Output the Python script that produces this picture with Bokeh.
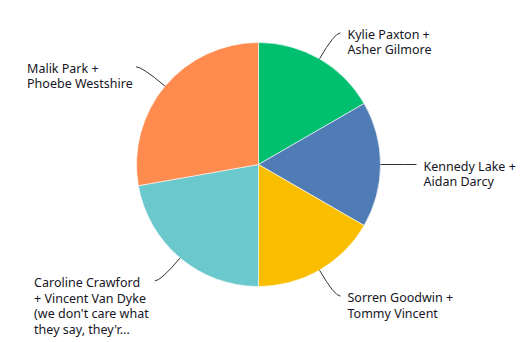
import math
from bokeh.plotting import figure
from bokeh.models import Range1d, ColumnDataSource
from bokeh.core.properties import value
from bokeh.embed import file_html
from bokeh.resources import INLINE

labels = [
    "Kylie Paxton +\nAsher Gilmore",
    "Kennedy Lake +\nAidan Darcy",
    "Sorren Goodwin +\nTommy Vincent",
    "Caroline Crawford\n+ Vincent Van Dyke\n(we don't care what\nthey say, they'r...",
    "Malik Park +\nPhoebe Westshire",
]
values = [3, 3, 3, 4, 5]
colors = ["#00BF6F", "#507CB6", "#F9BE00", "#6BC8CD", "#FF8B4F"]

W, H = 531, 342
CX, CY = 258, H - 164
R = 122
FS = 12.5
LH = 0.92

def est_width(s):
    w = 0.0
    for ch in s:
        if ch in "il'.,;:|!j":
            w += 3.2
        elif ch in "ftr()[] I":
            w += 4.2
        elif ch in "mwMW":
            w += 10.0
        elif ch.isupper():
            w += 8.2
        else:
            w += 6.9
    return w

total = sum(values)
starts, ends = [], []
acc = 0
for v in values:
    starts.append(acc / total * 360)
    acc += v
    ends.append(acc / total * 360)

wedge_src = ColumnDataSource(dict(
    start=[math.radians(90 - e) for e in ends],
    end=[math.radians(90 - s) for s in starts],
    color=colors,
))

x0s, y0s, cxs, cys, x1s, y1s = [], [], [], [], [], []
tx, ty = [], []
for lab, s, e in zip(labels, starts, ends):
    mid = math.radians((s + e) / 2)
    ux, uy = math.sin(mid), math.cos(mid)
    px, py = CX + R * ux, CY + R * uy
    cx, cy = CX + (R + 30) * ux, CY + (R + 30) * uy
    side = 1 if ux >= 0 else -1
    ex, ey = cx + side * 6, cy
    x0s.append(px); y0s.append(py); cxs.append(cx); cys.append(cy)
    x1s.append(ex); y1s.append(ey)
    if side > 0:
        tx.append(ex + 7)
    else:
        wmax = max(est_width(l) for l in lab.split("\n"))
        tx.append(ex - 6 - wmax)
    ty.append(ey + 7)

p = figure(width=W, height=H, x_range=Range1d(0, W), y_range=Range1d(0, H),
           output_backend="svg", toolbar_location=None, min_border=0,
           background_fill_color="white", border_fill_color="white")
p.axis.visible = False
p.grid.visible = False
p.outline_line_color = None

p.wedge(x=CX, y=CY, radius=R, start_angle="start", end_angle="end",
        direction="anticlock", fill_color="color",
        line_color="white", line_width=0.6, source=wedge_src)

p.quadratic(x0=x0s, y0=y0s, x1=x1s, y1=y1s, cx=cxs, cy=cys,
            line_color="#333333", line_width=1)

p.text(x=tx, y=ty, text=labels, text_font=value("Noto Sans"),
       text_font_size=f"{FS}px", text_color="#161625", text_align="left",
       text_baseline="top", text_line_height=LH)

open("out.html", "w").write(file_html(p, INLINE))
